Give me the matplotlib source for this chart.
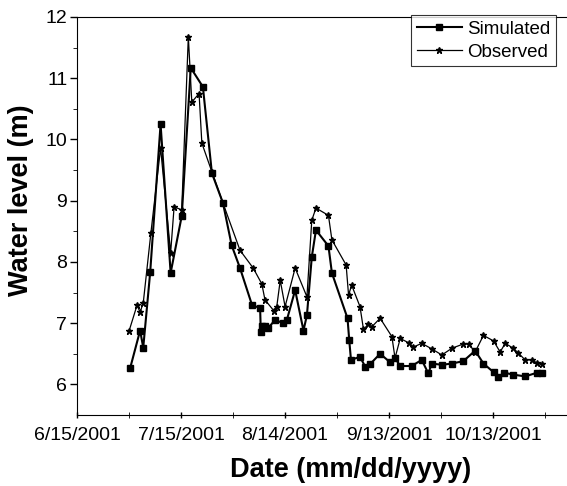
import matplotlib
matplotlib.use("Agg")
import matplotlib.pyplot as plt
import pandas as pd

# Tage seit 15.06.2001
start_date = pd.Timestamp("2001-06-15")

sim_days = [15.3, 18.2, 19.1, 21.1, 24.1, 27.0, 30.2, 32.8, 36.3, 38.9,
            42.1, 44.6, 47.0, 50.5, 52.8, 53.0, 53.3, 54.2, 55.1, 57.1,
            59.5, 60.5, 62.9, 65.3, 66.3, 67.7, 68.9, 72.5, 73.5, 78.0,
            78.5, 79.0, 81.6, 83.1, 84.5, 87.4, 90.3, 91.7, 93.2, 96.5,
            99.4, 101.3, 102.3, 105.2, 108.1, 111.4, 114.8, 117.2, 120.1, 121.5,
            123.2, 125.8, 129.2, 132.6, 134.0]
sim_level = [6.26, 6.88, 6.60, 7.83, 10.25, 7.82, 8.75, 11.17, 10.86, 9.45,
             8.96, 8.27, 7.90, 7.29, 7.25, 6.85, 6.96, 6.96, 6.92, 7.05,
             7.00, 7.05, 7.54, 6.88, 7.13, 8.08, 8.52, 8.26, 7.82, 7.08,
             6.72, 6.40, 6.45, 6.29, 6.33, 6.50, 6.36, 6.43, 6.30, 6.30,
             6.40, 6.18, 6.34, 6.32, 6.34, 6.38, 6.55, 6.34, 6.20, 6.12,
             6.19, 6.16, 6.13, 6.19, 6.19]

obs_days = [15.0, 17.3, 18.2, 19.1, 21.3, 24.1, 27.0, 28.0, 30.2, 32.1,
            33.1, 35.2, 36.0, 38.9, 42.1, 47.0, 50.8, 53.3, 54.2, 56.8,
            57.6, 58.6, 60.0, 62.9, 66.3, 67.7, 68.9, 72.5, 73.5, 77.6,
            78.3, 79.2, 81.6, 82.6, 84.0, 85.0, 87.4, 90.8, 91.7, 93.2,
            95.6, 97.0, 99.4, 102.3, 105.2, 108.1, 111.4, 112.9, 114.8, 117.2,
            120.1, 122.0, 123.5, 125.8, 127.3, 129.2, 131.2, 132.6, 134.0]
obs_level = [6.87, 7.29, 7.18, 7.33, 8.47, 9.86, 8.15, 8.90, 8.85, 11.68,
             10.61, 10.75, 9.94, 9.47, 8.96, 8.19, 7.90, 7.64, 7.38, 7.20,
             7.27, 7.70, 7.27, 7.90, 7.43, 8.68, 8.88, 8.76, 8.36, 7.95,
             7.46, 7.62, 7.27, 6.90, 6.98, 6.94, 7.08, 6.78, 6.43, 6.75,
             6.68, 6.61, 6.67, 6.58, 6.48, 6.59, 6.66, 6.66, 6.53, 6.80,
             6.71, 6.53, 6.67, 6.59, 6.51, 6.40, 6.40, 6.35, 6.33]

tick_labels = ["6/15/2001", "7/15/2001", "8/14/2001", "9/13/2001", "10/13/2001"]
y_ticks = [6, 7, 8, 9, 10, 11, 12]

plt.rcParams["font.family"] = ["Liberation Sans", "DejaVu Sans"]

sim_dates = start_date + pd.to_timedelta(sim_days, unit="D")
obs_dates = start_date + pd.to_timedelta(obs_days, unit="D")
tick_dates = pd.to_datetime(tick_labels, format="%m/%d/%Y")
minor_dates = tick_dates + pd.Timedelta(days=15)

fig = plt.figure(figsize=(5.67, 4.86), dpi=100)
ax = fig.add_axes([77 / 567, 71 / 486, 489 / 567, 398 / 486])

ax.plot(sim_dates, sim_level, color="black", linewidth=1.5,
        marker="s", markersize=4.4, label="Simulated")
ax.plot(obs_dates, obs_level, color="black", linewidth=0.9,
        marker="*", markersize=5, label="Observed")

ax.set_xlim(start_date, start_date + pd.Timedelta(days=141))
ax.set_ylim(5.5, 12)

ax.set_xticks(tick_dates)
ax.set_xticklabels(tick_labels)
ax.set_xticks(minor_dates, minor=True)
ax.set_yticks(y_ticks)
ax.set_yticks([v + 0.5 for v in y_ticks[:-1]], minor=True)

ax.tick_params(axis="both", which="major", labelsize=14, length=5, width=1)
ax.tick_params(axis="x", which="both", direction="inout")
ax.tick_params(axis="x", which="major", pad=6)
ax.tick_params(axis="x", which="minor", length=4)
ax.tick_params(axis="y", which="minor", length=3)
ax.tick_params(axis="y", which="major", pad=2)
ax.spines["right"].set_visible(False)

# Achsentitel leicht versetzt wie im Original
ax.set_xlabel("Date (mm/dd/yyyy)", fontsize=19.5, fontweight="bold")
ax.xaxis.set_label_coords(0.56, -0.105)
ax.set_ylabel("Water level (m)", fontsize=19.5, fontweight="bold")
ax.yaxis.set_label_coords(-0.088, 0.54)

leg = ax.legend(loc="upper right", fontsize=13.5, frameon=True, fancybox=False,
                edgecolor="black", borderpad=0.3, handlelength=2.4,
                handletextpad=0.3, borderaxespad=0.0, labelspacing=0.3,
                bbox_to_anchor=(0.98, 1.005))
leg.get_frame().set_linewidth(0.8)

fig.savefig("out.png", dpi=100)
plt.close(fig)
